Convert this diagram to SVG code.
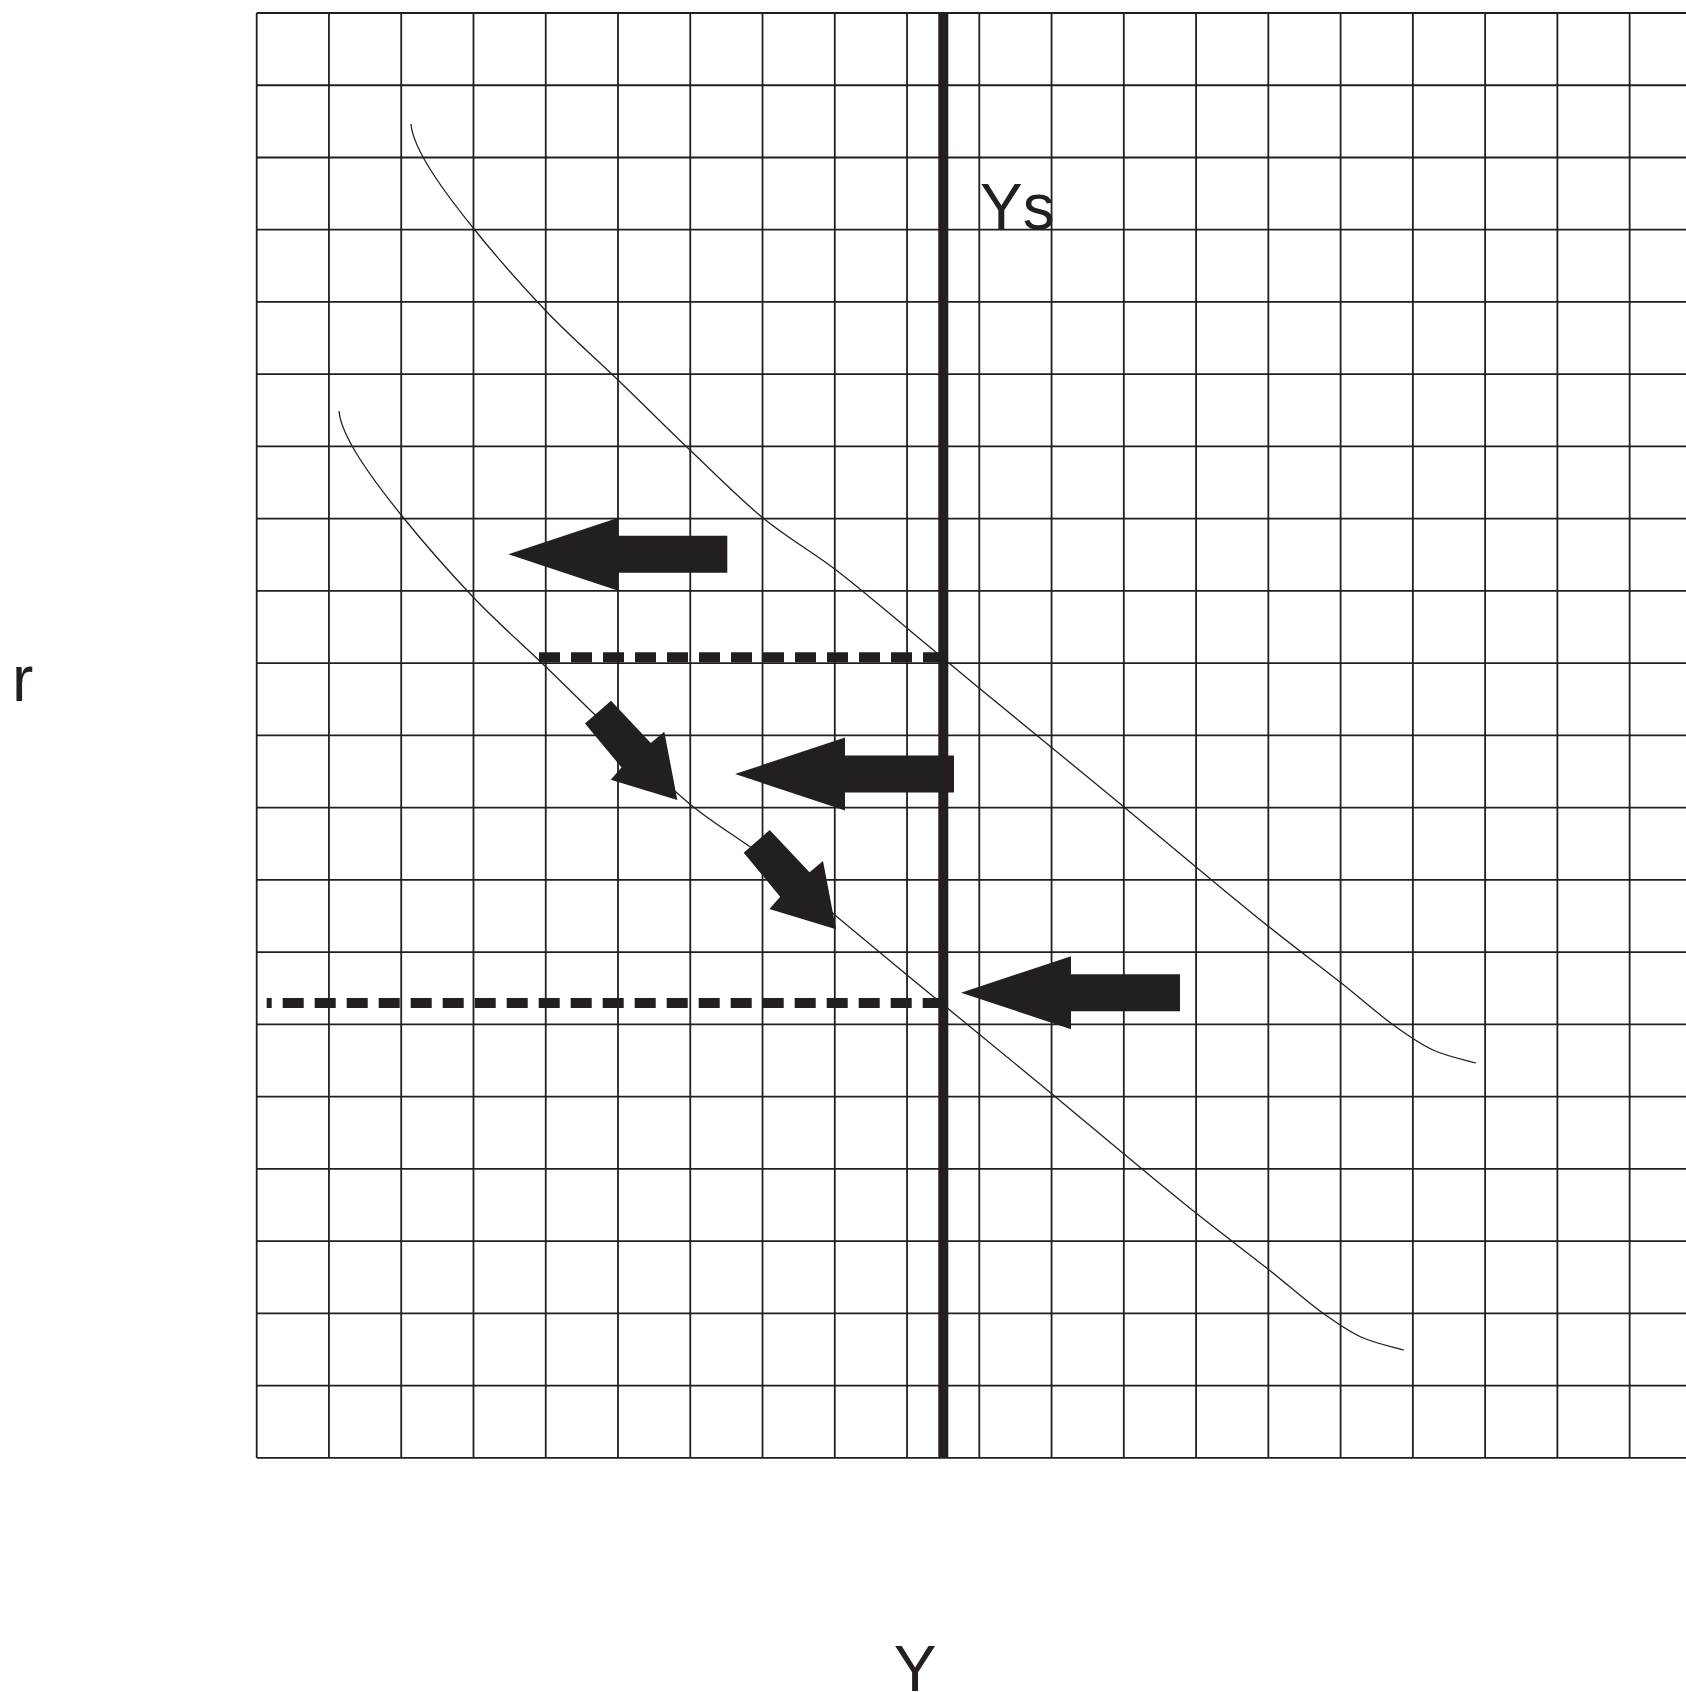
<svg xmlns="http://www.w3.org/2000/svg" width="1686" height="1692" viewBox="0 0 1686 1692">
<style>
.grid{fill:none;stroke:#231f20;stroke-width:1.8}
.curve{fill:none;stroke:#231f20;stroke-width:1.3}
.ys{fill:none;stroke:#231f20;stroke-width:10}
.dash{fill:none;stroke:#231f20;stroke-width:10;stroke-dasharray:21 11}
.arrow{fill:#231f20;stroke:none}
.lbl{font-family:"Liberation Sans",Arial,sans-serif;font-size:64px;fill:#231f20}
</style>
<defs>
<path id="harrow" d="M0,0 L110,-36.5 L110,-18.5 L219,-18.5 L219,18.5 L110,18.5 L110,36.5 Z"/>
<path id="darrow" d="M0,0 L-13,-68.3 L-26.5,-57 L-66.3,-99.3 L-92.3,-76.5 L-55.8,-32.5 L-66.6,-20.3 Z"/>
<path id="isLM" d="M411,124 C413,150 445,193 474,229 C497.2,257.8 522,285.8 546,311 C570,336.2 593.8,356.7 618,380 C642.2,403.3 666.8,428 691,451 C715.2,474 738.8,498.2 763,518 C787.2,537.8 811.8,551.5 836,570 C860.2,588.5 884.2,609.3 908,629 C931.8,648.7 955.2,668.3 979,688 C1002.8,707.7 1026.8,727.2 1051,747 C1075.2,766.8 1099.8,787 1124,807 C1148.2,827 1172,847.2 1196,867 C1220,886.8 1244,906.8 1268,926 C1292,945.2 1319.3,965.7 1340,982 C1360.7,998.3 1376.5,1012.7 1392,1024 C1407.5,1035.3 1419,1043.5 1433,1050 C1447,1056.5 1468.8,1060.8 1476,1063"/>
</defs>
<g id="grid" class="grid">
<path d="M256.7,13V1457.8 M328.96,13V1457.8 M401.22,13V1457.8 M473.48,13V1457.8 M545.74,13V1457.8 M618,13V1457.8 M690.26,13V1457.8 M762.52,13V1457.8 M834.78,13V1457.8 M907.04,13V1457.8 M979.3,13V1457.8 M1051.56,13V1457.8 M1123.82,13V1457.8 M1196.08,13V1457.8 M1268.34,13V1457.8 M1340.6,13V1457.8 M1412.86,13V1457.8 M1485.12,13V1457.8 M1557.38,13V1457.8 M1629.64,13V1457.8"/>
<path d="M256.7,13H1686 M256.7,85.24H1686 M256.7,157.48H1686 M256.7,229.72H1686 M256.7,301.96H1686 M256.7,374.2H1686 M256.7,446.44H1686 M256.7,518.68H1686 M256.7,590.92H1686 M256.7,663.16H1686 M256.7,735.4H1686 M256.7,807.64H1686 M256.7,879.88H1686 M256.7,952.12H1686 M256.7,1024.36H1686 M256.7,1096.6H1686 M256.7,1168.84H1686 M256.7,1241.08H1686 M256.7,1313.32H1686 M256.7,1385.56H1686 M256.7,1457.8H1686"/>
</g>
<g id="curves">
<use href="#isLM" class="curve"/>
<use href="#isLM" class="curve" transform="translate(-72,287)"/>
</g>
<g id="dashes">
<path class="dash" d="M539,657.3H943"/>
<path class="dash" d="M266.7,1003H943" style="stroke-dashoffset:16"/>
</g>
<g id="Ys-line">
<path class="ys" d="M943.3,13V1457.8"/>
</g>
<g id="arrows" class="arrow">
<use href="#harrow" transform="translate(508.3,554.3)"/>
<use href="#harrow" transform="translate(735,774)"/>
<use href="#harrow" transform="translate(961,992.7)"/>
<use href="#darrow" transform="translate(677.3,800)"/>
<use href="#darrow" transform="translate(836,929.3)"/>
</g>
<g id="labels">
<text class="lbl" x="980" y="229">Ys</text>
<text class="lbl" x="12" y="701">r</text>
<text class="lbl" x="915" y="1691" text-anchor="middle">Y</text>
</g>
</svg>
